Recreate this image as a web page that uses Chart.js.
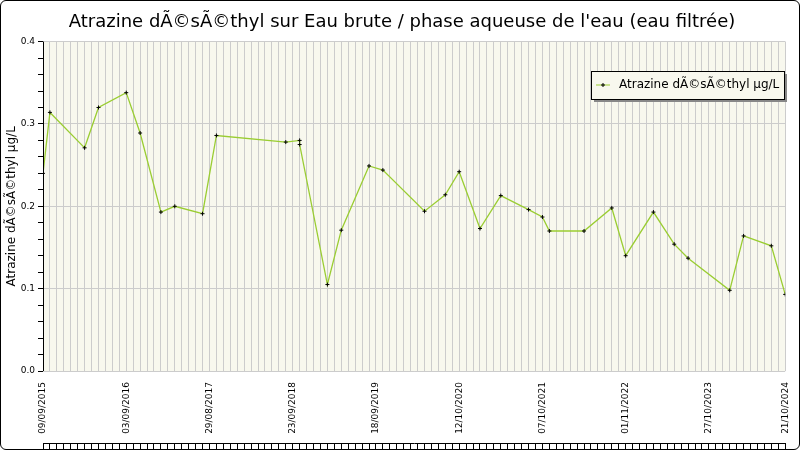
<!DOCTYPE html>
<html><head><meta charset="utf-8">
<script src="https://cdn.jsdelivr.net/npm/chart.js@4"></script>
<style>
body{margin:0;background:#fff}
#wrap{position:absolute;left:0;top:0;width:798px;height:448px;border:1px solid #000;border-radius:6px;overflow:hidden}
</style></head><body>
<div id="wrap"><canvas id="c" width="798" height="448"></canvas></div>
<script>
const seriesName = 'Atrazine dÃ©sÃ©thyl µg/L';
const tickLabels = ['09/09/2015','03/09/2016','29/08/2017','23/09/2018','18/09/2019','12/10/2020','07/10/2021','01/11/2022','27/10/2023','21/10/2024'];
const tickIndex = [0,12,24,36,48,60,72,84,96,107];
const sampleIndex = [0,1,6,8,12,14,17,19,23,25,35,37,37,41,43,47,49,55,58,60,63,66,70,72,73,78,82,84,88,91,93,99,101,105,107];
const sampleValue = [0.24,0.314,0.271,0.320,0.338,0.289,0.193,0.200,0.191,0.286,0.278,0.280,0.275,0.105,0.171,0.249,0.244,0.194,0.214,0.242,0.173,0.213,0.196,0.187,0.170,0.170,0.198,0.140,0.193,0.154,0.137,0.098,0.164,0.152,0.093];

const pts = sampleIndex.map((x, i) => ({x: x, y: sampleValue[i]}));

const bgPlugin = {
  id: 'bg',
  beforeDraw(chart) {
    const a = chart.chartArea, g = chart.ctx;
    g.save(); g.fillStyle = '#f8f8ee'; g.fillRect(a.left, a.top, a.right - a.left, a.bottom - a.top); g.restore();
  },
  afterDraw(chart) {
    const g = chart.ctx, a = chart.chartArea;
    g.save();
    g.strokeStyle = '#000'; g.lineWidth = 1;
    g.beginPath(); g.moveTo(a.left + 0.5, a.top); g.lineTo(a.left + 0.5, a.bottom); g.stroke();
    // legend box
    const x = 590, y = 70, w = 193, h = 28;
    g.fillStyle = '#888'; g.fillRect(x + 3, y + 3, w, h);
    g.fillStyle = '#f8f8ee'; g.fillRect(x, y, w, h);
    g.strokeRect(x + 0.5, y + 0.5, w, h);
    g.strokeStyle = '#9acd32'; g.beginPath(); g.moveTo(x + 5, y + 14); g.lineTo(x + 19, y + 14); g.stroke();
    g.strokeStyle = '#000'; g.beginPath(); g.moveTo(x + 10, y + 14); g.lineTo(x + 14, y + 14); g.moveTo(x + 12, y + 12); g.lineTo(x + 12, y + 16); g.stroke();
    g.fillStyle = '#000'; g.font = '12px "DejaVu Sans"'; g.textBaseline = 'middle';
    g.fillText(seriesName, x + 28, y + 14);
    g.restore();
  }
};

new Chart(document.getElementById('c'), {
  type: 'line',
  data: { datasets: [{
    data: pts, borderColor: '#9acd32', borderWidth: 1.3, tension: 0,
    pointStyle: 'cross', pointRadius: 2, pointBorderColor: '#000', pointBorderWidth: 1
  }]},
  options: {
    responsive: false, animation: false,
    layout: { padding: { left: 4, right: 0, top: 0, bottom: 0 } },
    plugins: {
      legend: { display: false }, tooltip: { enabled: false },
      title: { display: true, text: "Atrazine dÃ©sÃ©thyl sur Eau brute / phase aqueuse de l'eau (eau filtrée)",
        color: '#000', font: { family: 'DejaVu Sans', size: 18, weight: 'normal' }, padding: { top: 11, bottom: 8 } }
    },
    scales: {
      x: {
        type: 'linear', min: 0, max: 107,
        afterBuildTicks(s) { s.ticks = tickIndex.map(v => ({value: v})); },
        afterFit(s) { s.height = 72; },
        ticks: { autoSkip: false, maxRotation: 90, minRotation: 90, color: '#000',
          font: { family: 'DejaVu Sans', size: 9 }, callback: (v) => tickLabels[tickIndex.indexOf(v)] },
        grid: { display: false }, border: { display: false }
      },
      xg: {
        type: 'linear', min: 0, max: 107, position: 'bottom', display: true,
        afterBuildTicks(s) { const t = []; for (let i = 0; i <= 107; i++) t.push({value: i}); s.ticks = t; },
        afterFit(s) { s.height = 6; },
        ticks: { display: false },
        grid: { color: '#ccc', drawTicks: true, tickLength: 6, tickColor: '#000' },
        border: { color: '#000' }
      },
      y: {
        min: 0, max: 0.4,
        afterBuildTicks(s) { const t = []; for (let i = 0; i <= 20; i++) t.push({value: i * 0.02}); s.ticks = t; },
        afterFit(s) { s.width = 38; },
        ticks: { color: '#000', font: { family: 'DejaVu Sans', size: 9 },
          callback: (v) => { const r = Math.round(v * 50); return r % 5 === 0 ? (v).toFixed(1) : ''; } },
        grid: { color: (c) => Math.round(c.tick.value * 50) % 5 === 0 ? '#ccc' : 'rgba(0,0,0,0)',
          tickColor: '#000', tickLength: 5 },
        border: { display: false },
        title: { display: true, text: seriesName, color: '#000', font: { family: 'DejaVu Sans', size: 12 }, padding: 0 }
      }
    }
  },
  plugins: [bgPlugin]
});
</script></body></html>
